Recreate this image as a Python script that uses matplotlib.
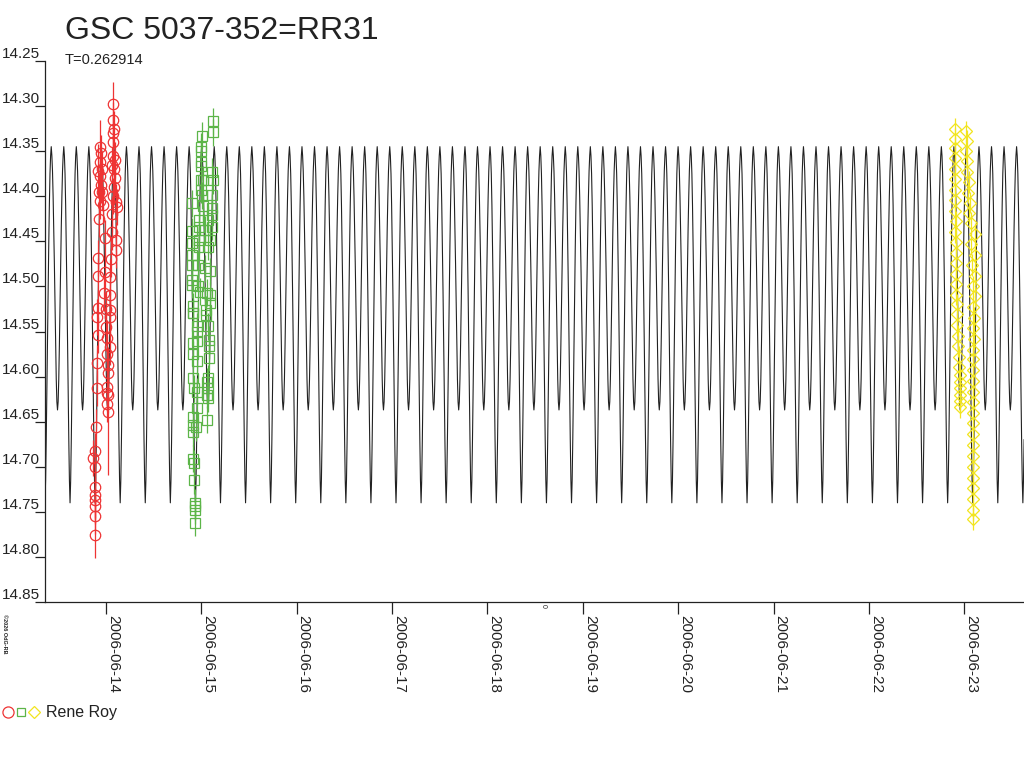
import numpy as np
import matplotlib
matplotlib.use("Agg")
import matplotlib.pyplot as plt
import matplotlib.dates as mdates
from matplotlib.lines import Line2D
from matplotlib.legend_handler import HandlerTuple
from datetime import datetime

plt.rcParams['font.family'] = ['Liberation Sans', 'DejaVu Sans']

# light curve model: half a cycle, mirrored for the other half
period = 0.262914
epoch_day = 13.623          # day of June 2006 of a primary minimum
half_phase = [0.0, 0.025, 0.05, 0.075, 0.10, 0.125, 0.15, 0.175, 0.20, 0.225, 0.25,
              0.275, 0.30, 0.325, 0.35, 0.375, 0.40, 0.425, 0.45, 0.475, 0.50]
half_mag = [14.740, 14.715, 14.670, 14.615, 14.560, 14.505, 14.455, 14.410, 14.375, 14.355, 14.345,
            14.355, 14.372, 14.400, 14.435, 14.475, 14.520, 14.565, 14.603, 14.628, 14.637]

# observations (day of June 2006, magnitude)
red_day = [13.885, 13.887, 13.884, 13.886, 13.885, 13.887, 13.885, 13.867, 13.885, 13.895,
           13.902, 13.902, 13.919, 13.902, 13.919, 13.919, 13.919, 13.927, 13.937, 13.927,
           13.948, 13.937, 13.919, 13.937, 13.948, 13.937, 13.958, 13.958, 13.968,
           13.979, 13.989, 13.989, 13.998, 13.998, 14.007, 14.015, 14.024, 14.024, 14.007,
           14.015, 14.024, 14.007, 14.024,
           14.042, 14.042, 14.042, 14.042, 14.042, 14.052, 14.063, 14.063, 14.070, 14.063,
           14.077, 14.084, 14.094, 14.084, 14.077, 14.077, 14.077, 14.077, 14.094, 14.105,
           14.115, 14.105, 14.105, 14.084]
red_mag = [14.776, 14.755, 14.744, 14.737, 14.731, 14.722, 14.700, 14.690, 14.683, 14.656,
           14.613, 14.585, 14.554, 14.534, 14.524, 14.489, 14.468, 14.425, 14.405, 14.395,
           14.388, 14.378, 14.372, 14.362, 14.352, 14.345, 14.370, 14.395, 14.410,
           14.507, 14.484, 14.446, 14.525, 14.545, 14.557, 14.575, 14.587, 14.596, 14.611,
           14.618, 14.620, 14.630, 14.639,
           14.567, 14.534, 14.526, 14.510, 14.490, 14.470, 14.440, 14.420, 14.400, 14.365,
           14.355, 14.370, 14.380, 14.390, 14.340, 14.330, 14.315, 14.298, 14.360, 14.406,
           14.412, 14.449, 14.460, 14.325]
red_err = [0.025, 0.02, 0.02, 0.02, 0.02, 0.02, 0.02, 0.02, 0.02, 0.02,
           0.02, 0.02, 0.02, 0.02, 0.02, 0.02, 0.02, 0.02, 0.02, 0.02,
           0.02, 0.02, 0.03, 0.02, 0.02, 0.03, 0.02, 0.02, 0.02,
           0.02, 0.02, 0.02, 0.02, 0.02, 0.02, 0.02, 0.02, 0.02, 0.02,
           0.02, 0.02, 0.02, 0.07,
           0.02, 0.02, 0.02, 0.02, 0.02, 0.02, 0.02, 0.02, 0.02, 0.02,
           0.02, 0.02, 0.02, 0.02, 0.02, 0.02, 0.02, 0.025, 0.02, 0.02,
           0.02, 0.02, 0.02, 0.02]

green_day = [15.119, 15.119, 15.003, 14.993, 14.993, 14.993, 14.993, 15.108, 15.119, 14.993,
             15.017, 14.993, 15.010, 14.899, 15.108, 15.017, 15.108, 15.108, 14.978, 15.073,
             15.108, 14.978, 14.899, 15.038, 14.899, 14.978, 15.090, 14.978, 15.073, 14.899,
             14.899, 14.968, 15.038, 15.090, 14.899, 14.899, 14.968, 14.986, 15.056, 15.090,
             15.090, 14.909, 14.909, 15.049, 15.049, 14.915,
             14.951, 15.073, 14.951, 14.915, 14.951, 15.083, 15.083, 14.915, 14.951, 15.083,
             14.909, 15.073, 14.923, 14.951, 15.056, 15.073, 15.056, 15.073, 14.951, 14.915,
             14.915, 14.944, 14.915, 15.056, 14.915, 14.923, 14.923, 14.933, 14.933, 14.933,
             14.933]
green_mag = [14.317, 14.329, 14.333, 14.345, 14.350, 14.362, 14.367, 14.373, 14.382, 14.382,
             14.382, 14.393, 14.399, 14.408, 14.399, 14.411, 14.413, 14.421, 14.426, 14.426,
             14.434, 14.434, 14.439, 14.437, 14.452, 14.449, 14.449, 14.456, 14.456, 14.465,
             14.476, 14.476, 14.480, 14.483, 14.493, 14.498, 14.500, 14.506, 14.507, 14.510,
             14.518, 14.522, 14.529, 14.526, 14.532, 14.529,
             14.544, 14.544, 14.550, 14.563, 14.561, 14.559, 14.566, 14.575, 14.583, 14.579,
             14.602, 14.602, 14.613, 14.617, 14.606, 14.613, 14.620, 14.624, 14.635, 14.645,
             14.654, 14.656, 14.662, 14.648, 14.691, 14.696, 14.715, 14.740, 14.744, 14.748,
             14.762]
green_err = 0.015

yellow_day = [22.898, 22.902, 22.899, 22.903, 22.900, 22.905, 22.902, 22.906, 22.903, 22.908,
              22.905, 22.909, 22.911, 22.908, 22.913, 22.916, 22.914, 22.919, 22.922, 22.926,
              22.930, 22.935, 22.940, 22.946, 22.950, 22.953, 22.956, 22.955, 22.958, 22.957,
              23.020, 23.028, 23.022, 23.032, 23.030, 23.045, 23.040, 23.060, 23.052, 23.075,
              23.110, 23.072, 23.115, 23.085, 23.108, 23.092, 23.112, 23.088, 23.098, 23.089,
              23.100, 23.090, 23.094, 23.091, 23.093, 23.090, 23.094, 23.091, 23.093, 23.090,
              23.094, 23.092, 23.094, 23.091, 23.093, 23.092, 23.094, 23.093]
yellow_mag = [14.325, 14.336, 14.347, 14.358, 14.370, 14.381, 14.393, 14.404, 14.416, 14.428,
              14.440, 14.451, 14.463, 14.474, 14.486, 14.497, 14.509, 14.520, 14.531, 14.543,
              14.555, 14.566, 14.578, 14.589, 14.598, 14.606, 14.613, 14.620, 14.627, 14.634,
              14.328, 14.339, 14.350, 14.361, 14.373, 14.384, 14.396, 14.407, 14.419, 14.430,
              14.442, 14.453, 14.465, 14.476, 14.488, 14.500, 14.511, 14.523, 14.535, 14.546,
              14.558, 14.570, 14.581, 14.593, 14.605, 14.617, 14.628, 14.640, 14.652, 14.664,
              14.676, 14.688, 14.700, 14.712, 14.724, 14.736, 14.748, 14.758]
yellow_err = 0.012

y_ticks = [14.25, 14.30, 14.35, 14.40, 14.45, 14.50, 14.55, 14.60, 14.65, 14.70, 14.75, 14.80, 14.85]

red = '#ee3333'
green = '#5cb548'
yellow = '#f2e51e'
ink = '#222222'

june1 = mdates.date2num(datetime(2006, 6, 1))


def to_date(days):
    return june1 + np.asarray(days) - 1.0


# model curve, one cycle after another
phase_full = np.array(half_phase + [1 - p for p in reversed(half_phase[:-1])])
mag_full = np.array(half_mag + list(reversed(half_mag[:-1])))
cycles = np.arange(-2, 42)
model_day = (epoch_day + (cycles[:, None] + phase_full[None, :]) * period).ravel()
model_mag = np.tile(mag_full, len(cycles))

fig = plt.figure(figsize=(10.24, 7.68), dpi=100)
ax = fig.add_axes([45 / 1024, 1 - 602 / 768, 1 - 45 / 1024, 541 / 768])

ax.plot(to_date(model_day), model_mag, color=ink, lw=0.8, zorder=1)

ax.errorbar(to_date(red_day), red_mag, yerr=red_err, fmt='o', ms=7.5, mfc='none', mec=red,
            mew=0.9, ecolor=red, elinewidth=0.9, capsize=0, zorder=3)
ax.errorbar(to_date(green_day), green_mag, yerr=green_err, fmt='s', ms=6.6, mfc='none', mec=green,
            mew=0.9, ecolor=green, elinewidth=0.9, capsize=0, zorder=3)
ax.errorbar(to_date(yellow_day), yellow_mag, yerr=yellow_err, fmt='D', ms=6.6, mfc='none', mec=yellow,
            mew=0.9, ecolor=yellow, elinewidth=0.9, capsize=0, zorder=3)

ax.set_xlim(to_date(13.3604), to_date(23.6257))
ax.set_ylim(14.85, 14.25)

for side in ['top', 'right']:
    ax.spines[side].set_visible(False)
for side in ['left', 'bottom']:
    ax.spines[side].set_color(ink)
    ax.spines[side].set_linewidth(0.9)

ax.xaxis.set_major_locator(mdates.DayLocator())
ax.xaxis.set_major_formatter(mdates.DateFormatter('%Y-%m-%d'))
ax.set_yticks(y_ticks)
ax.set_yticklabels(['%.2f' % v for v in y_ticks])

ax.tick_params(axis='x', direction='out', length=8.6, width=0.9, pad=1, labelsize=11,
               color=ink, labelcolor=ink)
ax.tick_params(axis='y', direction='out', length=7.2, width=0.9, pad=-3.6, labelsize=11,
               color=ink, labelcolor=ink)
for lab in ax.get_xticklabels():
    lab.set_rotation(-90)
    lab.set_ha('left')
    lab.set_va('top')
for lab in ax.get_yticklabels():
    lab.set_va('bottom')

fig.text(65 / 1024, 1 - 39 / 768, 'GSC 5037-352=RR31', fontsize=23, color=ink, va='baseline')
fig.text(65 / 1024, 1 - 64 / 768, 'T=0.262914', fontsize=10.5, color=ink, va='baseline')
fig.text(2 / 1024, 1 - 614 / 768, '\u00a92026 OdG-RB', fontsize=4, color=ink, rotation=-90,
         ha='left', va='top', fontweight='bold')
fig.text(540 / 1024, 1 - 604 / 768, '0', fontsize=5, color=ink, rotation=-90, ha='left', va='top')

# legend: one observer, three marker styles
h_red = Line2D([], [], ls='none', marker='o', ms=8, mfc='none', mec=red, mew=0.9)
h_green = Line2D([], [], ls='none', marker='s', ms=5.5, mfc='none', mec=green, mew=0.9)
h_yellow = Line2D([], [], ls='none', marker='D', ms=6, mfc='none', mec=yellow, mew=0.9)
fig.legend(handles=[(h_red, h_green, h_yellow)], labels=['Rene Roy'],
           handler_map={tuple: HandlerTuple(ndivide=None, pad=0.0)},
           loc='center left', bbox_to_anchor=(0.002, 1 - 713 / 768), frameon=False,
           fontsize=11.5, handlelength=2.4, handletextpad=0.35, borderpad=0, borderaxespad=0,
           labelcolor=ink)

fig.savefig('out.png', dpi=100)
